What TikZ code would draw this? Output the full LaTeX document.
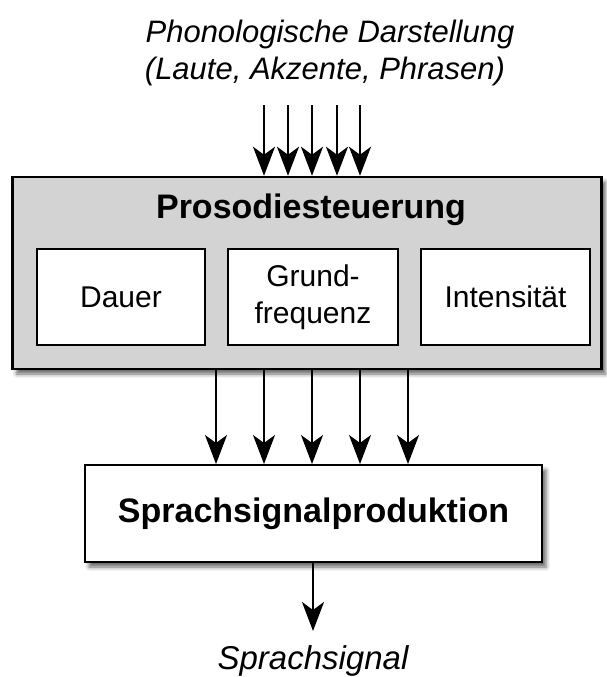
\documentclass[tikz,border=0pt]{standalone}
\usepackage{fontspec}
\setmainfont{Liberation Sans}
\usetikzlibrary{arrows.meta,shadows.blur}
\definecolor{kastengrau}{RGB}{211,211,211}
\begin{document}
\begin{tikzpicture}[x=1pt,y=-1pt,
    kasten/.style={draw,line width=2pt,fill=white,inner sep=0pt},
    schatten/.style={blur shadow={shadow xshift=4pt,shadow yshift=-5pt,shadow blur radius=4pt,shadow opacity=60}},
    pfeil/.style={line width=2pt,-{Stealth[length=29pt,width=22pt,inset=8pt]}},
    fett/.style={font=\fontsize{34}{40}\selectfont\bfseries},
    normal/.style={font=\fontsize{30}{37}\selectfont},
    kursiv/.style={font=\fontsize{31}{36}\selectfont\itshape}]
  \useasboundingbox (0,0) rectangle (607,677);

  \node[kursiv,anchor=base] (zeile1) at (330,43) {Phonologische Darstellung};
  \node[kursiv,anchor=base] (zeile2) at (325,80) {(Laute, Akzente, Phrasen)};

  \node[kasten,schatten,fill=kastengrau,line width=2.5pt,minimum width=589pt,minimum height=192pt] (steuer) at (307,273) {};
  \node[fett,anchor=base] (titel) at (311,218) {Prosodiesteuerung};
  \node[kasten,normal,minimum width=168pt,minimum height=96pt] (dauer) at (121,297) {Dauer};
  \node[kasten,normal,align=center,minimum width=170pt,minimum height=96pt] (grund) at (313,297) {Grund-\\frequenz};
  \node[kasten,normal,minimum width=169pt,minimum height=96pt] (intens) at (505.5,297) {Intensität};

  \node[kasten,schatten,fett,minimum width=457pt,minimum height=97pt] (prod) at (313.5,513.5) {Sprachsignalproduktion};
  \node[kursiv,anchor=base,font=\fontsize{33}{38}\selectfont\itshape] (signal) at (313,669) {Sprachsignal};

  \foreach \x [count=\i] in {264,288,312,337,360} {
    \coordinate (ein\i) at (\x,105);
    \draw[pfeil] (ein\i) -- (ein\i |- steuer.north);
  }
  \foreach \x [count=\i] in {216,264,312,360,408} {
    \coordinate (mitte\i) at (\x,0);
    \draw[pfeil] (steuer.south -| mitte\i) -- (prod.north -| mitte\i);
  }
  \coordinate (aus) at (313,631);
  \draw[pfeil] (prod.south -| aus) -- (aus);
\end{tikzpicture}
\end{document}
